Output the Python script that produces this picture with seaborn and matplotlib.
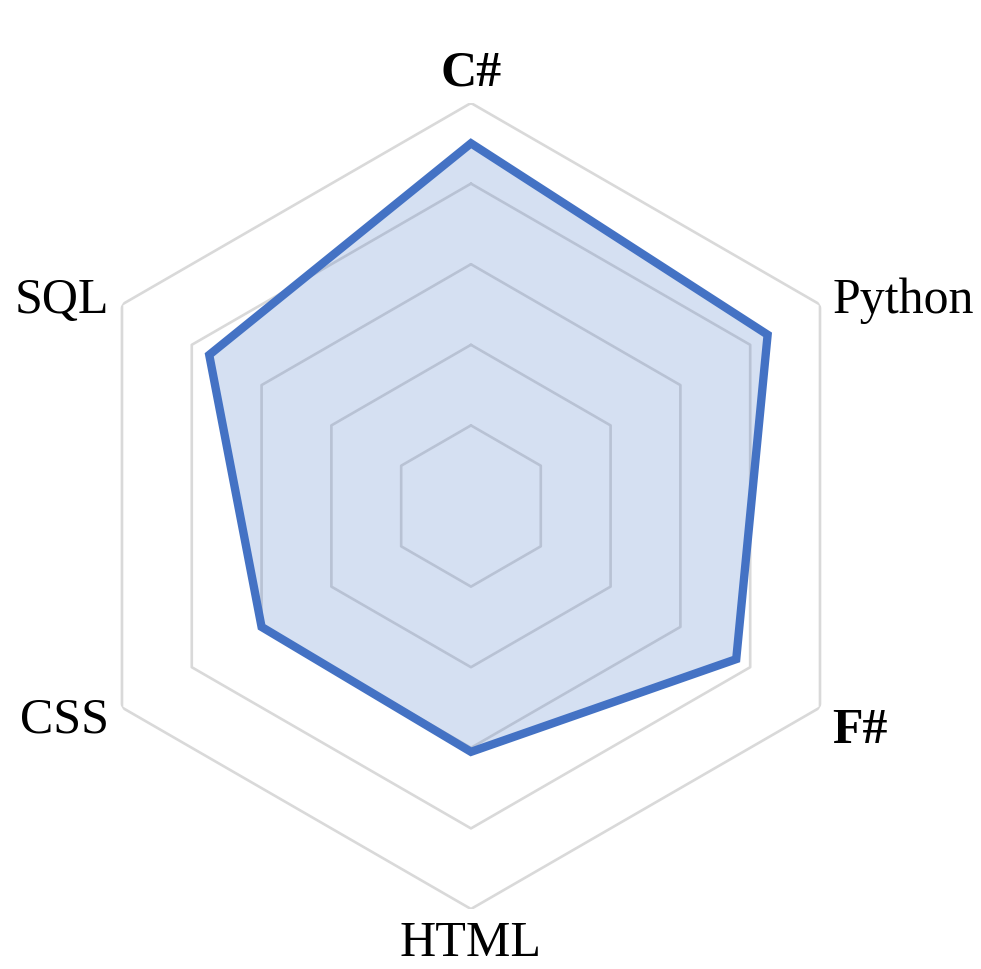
import numpy as np
import pandas as pd
import matplotlib
matplotlib.use("Agg")
import matplotlib.pyplot as plt
import seaborn as sns

# datos
skills = ["C#", "Python", "F#", "HTML", "CSS", "SQL"]
scores = [4.5, 4.25, 3.8, 3.05, 3.0, 3.75]
levels = [1, 2, 3, 4, 5]
bold_skills = ["C#", "F#"]

sns.set_style("white")
plt.rcParams['font.family'] = ['Liberation Serif', 'DejaVu Serif']

azul = "#4472C4"
gris = "#D9D9D9"

n = len(skills)
theta = np.arange(n) * 2 * np.pi / n
theta_c = np.append(theta, theta[0])
vals_c = np.append(scores, scores[0])

fig = plt.figure(figsize=(9.81, 9.69), dpi=100)
ax = fig.add_axes([0.0693, 0.0619, 0.8216, 0.8318], projection='polar')
ax.set_theta_offset(np.pi / 2)
ax.set_theta_direction(-1)

# anillos hexagonales (una linea por nivel)
anillos = pd.DataFrame({
    'theta': np.tile(theta_c, len(levels)),
    'r': np.repeat(levels, n + 1),
    'nivel': np.repeat(levels, n + 1),
})
sns.lineplot(data=anillos, x='theta', y='r', units='nivel', estimator=None,
             sort=False, color=gris, lw=1.9, ax=ax, zorder=1)

# serie: poligono cerrado relleno + borde
ax.fill(theta_c, vals_c, facecolor=azul, alpha=0.22, lw=0, zorder=2)
ax.fill(theta_c, vals_c, facecolor='none', edgecolor=azul, lw=6,
        joinstyle='miter', zorder=3)

ax.set_ylim(0, 5)
ax.grid(False)
ax.spines['polar'].set_visible(False)
ax.set_xticks([])
ax.set_yticks([])
ax.set_xlabel('')
ax.set_ylabel('')

# etiquetas
offsets = {
    "C#": (0, 21, 'center', 'center'),
    "Python": (9, 3, 'left', 'center'),
    "F#": (9, -17, 'left', 'center'),
    "HTML": (0, -25, 'center', 'center'),
    "CSS": (-9, -9, 'right', 'center'),
    "SQL": (-9, 3, 'right', 'center'),
}
for t, name in zip(theta, skills):
    dx, dy, ha, va = offsets[name]
    ax.annotate(name, xy=(t, 5), xytext=(dx, dy), textcoords='offset points',
                ha=ha, va=va, fontsize=36, color='black',
                fontweight='bold' if name in bold_skills else 'normal',
                annotation_clip=False)

fig.savefig("out.png", dpi=100)
